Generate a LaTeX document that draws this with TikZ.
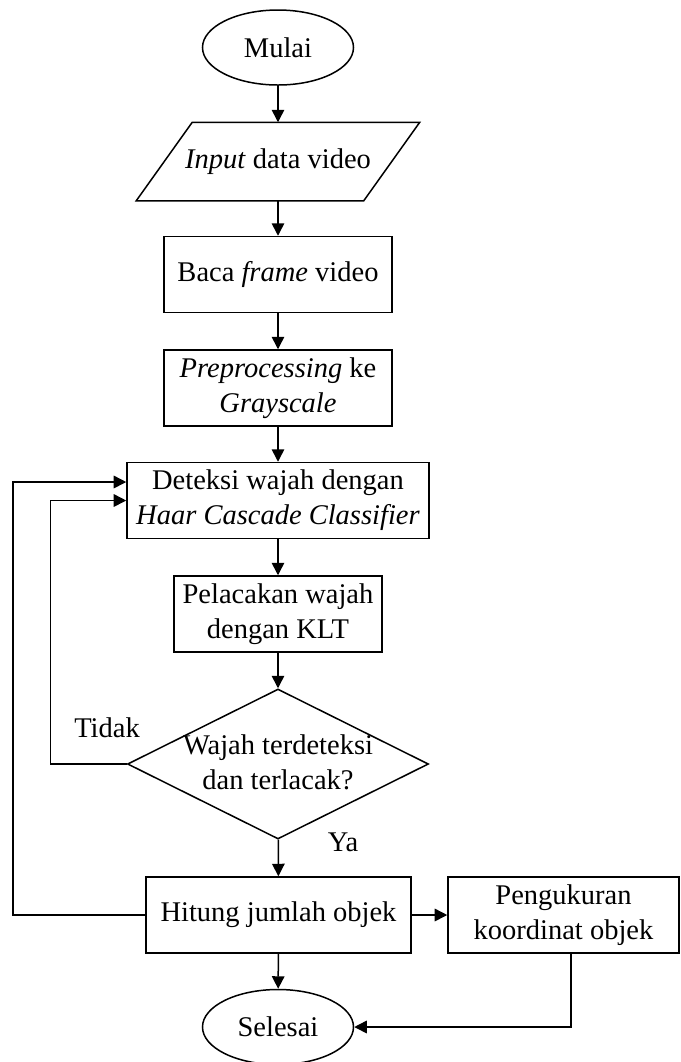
\documentclass[tikz,border=0pt]{standalone}
\usepackage{fontspec}
\setmainfont{Liberation Serif}
\usetikzlibrary{shapes.geometric,arrows.meta}
\tikzset{
    TE/.style ={ellipse,minimum width = 60.4pt, minimum height = 30pt, inner sep=0pt, draw},
    IO/.style ={rectangle,minimum width = 90.4pt, minimum height = 30.8pt, inner sep=0pt},
    PR/.style ={rectangle,minimum height = 30.4pt, inner sep=0pt, align=center, draw},
    DE/.style ={diamond,minimum width = 120.4pt, minimum height = 60pt, inner sep=0pt, draw},
    AR/.style ={-{Triangle[length=5pt,width=5pt]}},
    LB/.style ={inner sep=0pt}}

\begin{document}
\begin{tikzpicture}[x=0.4pt,y=-0.4pt,line width=0.6pt,font=\fontsize{11.4}{14}\selectfont]
        \useasboundingbox (0,0) rectangle (681,1062);
        \node[TE] (mul) at (278,47.5) {Mulai};
        \node[IO] (inp) at (278,161.5) {\textit{Input} data video};
        \draw ([xshift=-11.2pt]inp.south west)--([xshift=11.2pt]inp.north west)
            --([xshift=11.2pt]inp.north east)--([xshift=-11.2pt]inp.south east)--cycle;
        \node[PR,minimum width=91.2pt] (baca) at (278,274.5) {Baca \textit{frame} video};
        \node[PR,minimum width=91.2pt] (prep) at (278,388) {\textit{Preprocessing} ke\\\textit{Grayscale}};
        \node[PR,minimum width=120.8pt] (det) at (278,500.5) {Deteksi wajah dengan\\\textit{Haar Cascade Classifier}};
        \node[PR,minimum width=83.2pt] (pel) at (278,614) {Pelacakan wajah\\dengan KLT};
        \node[DE] (chk) at (278,764) {};
        \node[align=center,LB] (chktxt) at (278,762) {Wajah terdeteksi\\dan terlacak?};
        \node[PR,minimum width=106pt] (hit) at (278.5,915) {Hitung jumlah objek};
        \node[PR,minimum width=92.4pt] (peng) at (563.5,915) {Pengukuran\\koordinat objek};
        \node[TE] (sel) at (278,1027) {Selesai};
        \node[LB] (tdk) at (107,728) {Tidak};
        \node[LB] (ya) at (343,842) {Ya};
        \draw[AR] (mul)--(inp);
        \draw[AR] (inp)--(baca);
        \draw[AR] (baca)--(prep);
        \draw[AR] (prep)--(det);
        \draw[AR] (det)--(pel);
        \draw[AR] (pel)--(chk);
        \draw[AR] (chk)--(hit);
        \draw[AR] (hit)--(sel);
        \draw[AR] (hit)--(peng);
        \draw[AR] ([xshift=3pt]peng.south) |- (sel.east);
        \draw[AR] (chk.west)--++(-76,0) |- (det.west);
        \draw[AR] (hit.west)--++(-132,0) |- ([yshift=7.4pt]det.west);
    \end{tikzpicture}
\end{document}
